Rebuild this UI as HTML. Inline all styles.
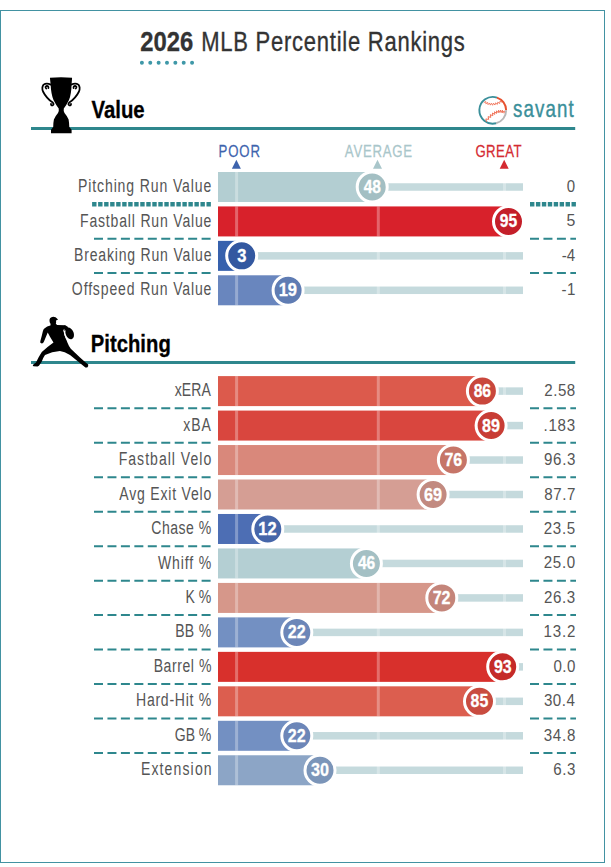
<!DOCTYPE html>
<html><head><meta charset="utf-8">
<style>
html,body{margin:0;padding:0;background:#fff;width:611px;height:867px;overflow:hidden;}
svg{position:absolute;left:0;top:0;}
text{font-family:"Liberation Sans", sans-serif;}
</style></head><body>
<svg width="611" height="867" viewBox="0 0 611 867" xmlns="http://www.w3.org/2000/svg">
<rect x="0.5" y="10.5" width="604" height="852" fill="#fff" stroke="#4292a2" stroke-width="1"/>
<line x1="141.9" y1="62.8" x2="194" y2="62.8" stroke="#3f98a8" stroke-width="4" stroke-linecap="round" stroke-dasharray="0 8.36"/>
<g fill="none">
<path d="M496.04 123.29 A13.4 13.4 0 1 1 496.94 97.57" stroke="#3a8f9a" stroke-width="1.9"/>
<path d="M496.94 97.57 A13.4 13.4 0 0 1 506.15 110.18" stroke="#e6512f" stroke-width="1.9"/>
<path d="M506.15 110.18 A13.4 13.4 0 0 1 496.04 123.29" stroke="#b8b8b8" stroke-width="1.9"/>
<path d="M483.76 102.64 L485.78 101.52 L485.88 103.82 L487.67 102.41 L488.06 104.65 L489.59 102.97 L490.30 105.13 L491.55 103.24 L492.60 105.25 L493.56 103.19 L494.93 105.02 L495.63 102.83 L497.29 104.44 L497.77 102.16 L499.69 103.52 L499.97 101.16 L502.11 102.26" stroke="#ee6a4f" stroke-width="0.85"/>
<path d="M486.50 121.79 L485.85 118.93 L488.70 119.41 L488.10 116.62 L490.81 117.39 L490.30 114.66 L492.82 115.71 L492.43 113.03 L494.74 114.39 L494.52 111.75 L496.55 113.42 L496.57 110.81 L498.24 112.78 L498.58 110.23 L499.82 112.47 L500.56 110.03 L501.29 112.47 L502.48 110.22 L502.67 112.76 L504.31 110.82 L504.01 113.34" stroke="#ee6a4f" stroke-width="0.95"/>
</g>
<rect x="31" y="127" width="544.2" height="3" fill="#2e878d"/>
<g fill="#000">
<path d="M49.9 77.8 Q61 76.8 72.1 77.8 L71.6 84 Q71.4 94 69 100 Q66.5 105 63.8 108.5 Q63.3 110.5 64.5 113 Q67.5 116.5 68.6 119.5 Q69.2 123 69.3 127 L71.6 129.8 L71.6 133.2 L51 133.2 L51 129.8 L53.2 127 Q53.2 123 53.9 119.5 Q55 116.5 58 113 Q59.2 110.5 58.7 108.5 Q56 105 53.5 100 Q51 94 50.6 84 Z"/>
</g>
<g fill="none" stroke="#000" stroke-width="1.75" stroke-linecap="round">
<path d="M50.8 84.6 Q46.5 82.6 43.6 84.6 Q41.4 87.5 43 91.5 Q46.5 98.5 52.8 102.6 Q54.5 104.6 52.6 105.4 Q50.8 105.6 51 103.8"/>
<path d="M46.2 88.6 Q44.6 86.4 46.8 85.8 Q48.8 86 48.4 88.2"/>
<path d="M71.2 84.6 Q75.5 82.6 78.4 84.6 Q80.6 87.5 79 91.5 Q75.5 98.5 69.2 102.6 Q67.5 104.6 69.4 105.4 Q71.2 105.6 71 103.8"/>
<path d="M75.8 88.6 Q77.4 86.4 75.2 85.8 Q73.2 86 73.6 88.2"/>
</g>
<path d="M236.4 159.8 L240.9 168.7 L231.9 168.7 Z" fill="#3d63ad"/>
<path d="M377.5 159.8 L382 168.7 L373 168.7 Z" fill="#a9c6ca"/>
<path d="M504.2 159.8 L508.7 168.7 L499.7 168.7 Z" fill="#d42a31"/>
<rect x="218.0" y="183.25" width="305.0" height="7.5" fill="#c5dadd"/>
<rect x="218.0" y="172.00" width="154.20" height="30" fill="#b3ced2"/>
<rect x="235.10" y="172.00" width="3" height="30" fill="#ffffff" opacity="0.3"/>
<rect x="376.80" y="172.00" width="3" height="30" fill="#ffffff" opacity="0.3"/>
<rect x="503.00" y="172.00" width="3" height="30" fill="#ffffff" opacity="0.3"/>
<circle cx="372.20" cy="187.00" r="15" fill="#a3bfc3" stroke="#fff" stroke-width="3"/>
<line x1="92.1" y1="204.20" x2="211" y2="204.20" stroke="#2e878d" stroke-width="4.4" stroke-dasharray="4.4 1.62"/>
<line x1="530" y1="204.20" x2="576" y2="204.20" stroke="#2e878d" stroke-width="4.4" stroke-dasharray="4.4 1.53"/>
<rect x="218.0" y="217.68" width="305.0" height="7.5" fill="#c5dadd"/>
<rect x="218.0" y="206.43" width="290.50" height="30" fill="#d8212b"/>
<rect x="235.10" y="206.43" width="3" height="30" fill="#ffffff" opacity="0.3"/>
<rect x="376.80" y="206.43" width="3" height="30" fill="#ffffff" opacity="0.3"/>
<rect x="503.00" y="206.43" width="3" height="30" fill="#ffffff" opacity="0.3"/>
<circle cx="508.50" cy="221.43" r="15" fill="#c41f29" stroke="#fff" stroke-width="3"/>
<line x1="94" y1="238.63" x2="211.2" y2="238.63" stroke="#2e878d" stroke-width="2" stroke-dasharray="9 4.45"/>
<line x1="530" y1="238.63" x2="576" y2="238.63" stroke="#2e878d" stroke-width="2" stroke-dasharray="9 4.45"/>
<rect x="218.0" y="252.11" width="305.0" height="7.5" fill="#c5dadd"/>
<rect x="218.0" y="240.86" width="23.70" height="30" fill="#3661ad"/>
<rect x="235.10" y="240.86" width="3" height="30" fill="#ffffff" opacity="0.3"/>
<rect x="376.80" y="240.86" width="3" height="30" fill="#ffffff" opacity="0.3"/>
<rect x="503.00" y="240.86" width="3" height="30" fill="#ffffff" opacity="0.3"/>
<circle cx="241.70" cy="255.86" r="15" fill="#3358a0" stroke="#fff" stroke-width="3"/>
<line x1="94" y1="273.06" x2="211.2" y2="273.06" stroke="#2e878d" stroke-width="2" stroke-dasharray="9 4.45"/>
<line x1="530" y1="273.06" x2="576" y2="273.06" stroke="#2e878d" stroke-width="2" stroke-dasharray="9 4.45"/>
<rect x="218.0" y="286.54" width="305.0" height="7.5" fill="#c5dadd"/>
<rect x="218.0" y="275.29" width="70.10" height="30" fill="#6986be"/>
<rect x="235.10" y="275.29" width="3" height="30" fill="#ffffff" opacity="0.3"/>
<rect x="376.80" y="275.29" width="3" height="30" fill="#ffffff" opacity="0.3"/>
<rect x="503.00" y="275.29" width="3" height="30" fill="#ffffff" opacity="0.3"/>
<circle cx="288.10" cy="290.29" r="15" fill="#5f7cb3" stroke="#fff" stroke-width="3"/>
<rect x="218.0" y="387.35" width="305.0" height="7.5" fill="#c5dadd"/>
<rect x="218.0" y="376.10" width="264.40" height="30" fill="#dc5a4c"/>
<rect x="235.10" y="376.10" width="3" height="30" fill="#ffffff" opacity="0.3"/>
<rect x="376.80" y="376.10" width="3" height="30" fill="#ffffff" opacity="0.3"/>
<rect x="503.00" y="376.10" width="3" height="30" fill="#ffffff" opacity="0.3"/>
<circle cx="482.40" cy="391.10" r="15" fill="#c9473c" stroke="#fff" stroke-width="3"/>
<line x1="94" y1="408.30" x2="211.2" y2="408.30" stroke="#2e878d" stroke-width="2" stroke-dasharray="9 4.45"/>
<line x1="530" y1="408.30" x2="576" y2="408.30" stroke="#2e878d" stroke-width="2" stroke-dasharray="9 4.45"/>
<rect x="218.0" y="421.82" width="305.0" height="7.5" fill="#c5dadd"/>
<rect x="218.0" y="410.57" width="273.10" height="30" fill="#d9463e"/>
<rect x="235.10" y="410.57" width="3" height="30" fill="#ffffff" opacity="0.3"/>
<rect x="376.80" y="410.57" width="3" height="30" fill="#ffffff" opacity="0.3"/>
<rect x="503.00" y="410.57" width="3" height="30" fill="#ffffff" opacity="0.3"/>
<circle cx="491.10" cy="425.57" r="15" fill="#c83d35" stroke="#fff" stroke-width="3"/>
<line x1="94" y1="442.77" x2="211.2" y2="442.77" stroke="#2e878d" stroke-width="2" stroke-dasharray="9 4.45"/>
<line x1="530" y1="442.77" x2="576" y2="442.77" stroke="#2e878d" stroke-width="2" stroke-dasharray="9 4.45"/>
<rect x="218.0" y="456.29" width="305.0" height="7.5" fill="#c5dadd"/>
<rect x="218.0" y="445.04" width="235.40" height="30" fill="#d9887b"/>
<rect x="235.10" y="445.04" width="3" height="30" fill="#ffffff" opacity="0.3"/>
<rect x="376.80" y="445.04" width="3" height="30" fill="#ffffff" opacity="0.3"/>
<rect x="503.00" y="445.04" width="3" height="30" fill="#ffffff" opacity="0.3"/>
<circle cx="453.40" cy="460.04" r="15" fill="#c67568" stroke="#fff" stroke-width="3"/>
<line x1="94" y1="477.24" x2="211.2" y2="477.24" stroke="#2e878d" stroke-width="2" stroke-dasharray="9 4.45"/>
<line x1="530" y1="477.24" x2="576" y2="477.24" stroke="#2e878d" stroke-width="2" stroke-dasharray="9 4.45"/>
<rect x="218.0" y="490.76" width="305.0" height="7.5" fill="#c5dadd"/>
<rect x="218.0" y="479.51" width="215.10" height="30" fill="#d59e94"/>
<rect x="235.10" y="479.51" width="3" height="30" fill="#ffffff" opacity="0.3"/>
<rect x="376.80" y="479.51" width="3" height="30" fill="#ffffff" opacity="0.3"/>
<rect x="503.00" y="479.51" width="3" height="30" fill="#ffffff" opacity="0.3"/>
<circle cx="433.10" cy="494.51" r="15" fill="#c28a80" stroke="#fff" stroke-width="3"/>
<line x1="94" y1="511.71" x2="211.2" y2="511.71" stroke="#2e878d" stroke-width="2" stroke-dasharray="9 4.45"/>
<line x1="530" y1="511.71" x2="576" y2="511.71" stroke="#2e878d" stroke-width="2" stroke-dasharray="9 4.45"/>
<rect x="218.0" y="525.23" width="305.0" height="7.5" fill="#c5dadd"/>
<rect x="218.0" y="513.98" width="49.80" height="30" fill="#4d6eb4"/>
<rect x="235.10" y="513.98" width="3" height="30" fill="#ffffff" opacity="0.3"/>
<rect x="376.80" y="513.98" width="3" height="30" fill="#ffffff" opacity="0.3"/>
<rect x="503.00" y="513.98" width="3" height="30" fill="#ffffff" opacity="0.3"/>
<circle cx="267.80" cy="528.98" r="15" fill="#4666a9" stroke="#fff" stroke-width="3"/>
<line x1="94" y1="546.18" x2="211.2" y2="546.18" stroke="#2e878d" stroke-width="2" stroke-dasharray="9 4.45"/>
<line x1="530" y1="546.18" x2="576" y2="546.18" stroke="#2e878d" stroke-width="2" stroke-dasharray="9 4.45"/>
<rect x="218.0" y="559.70" width="305.0" height="7.5" fill="#c5dadd"/>
<rect x="218.0" y="548.45" width="148.40" height="30" fill="#b4cfd3"/>
<rect x="235.10" y="548.45" width="3" height="30" fill="#ffffff" opacity="0.3"/>
<rect x="376.80" y="548.45" width="3" height="30" fill="#ffffff" opacity="0.3"/>
<rect x="503.00" y="548.45" width="3" height="30" fill="#ffffff" opacity="0.3"/>
<circle cx="366.40" cy="563.45" r="15" fill="#a4c0c4" stroke="#fff" stroke-width="3"/>
<line x1="94" y1="580.65" x2="211.2" y2="580.65" stroke="#2e878d" stroke-width="2" stroke-dasharray="9 4.45"/>
<line x1="530" y1="580.65" x2="576" y2="580.65" stroke="#2e878d" stroke-width="2" stroke-dasharray="9 4.45"/>
<rect x="218.0" y="594.17" width="305.0" height="7.5" fill="#c5dadd"/>
<rect x="218.0" y="582.92" width="223.80" height="30" fill="#d6978a"/>
<rect x="235.10" y="582.92" width="3" height="30" fill="#ffffff" opacity="0.3"/>
<rect x="376.80" y="582.92" width="3" height="30" fill="#ffffff" opacity="0.3"/>
<rect x="503.00" y="582.92" width="3" height="30" fill="#ffffff" opacity="0.3"/>
<circle cx="441.80" cy="597.92" r="15" fill="#c4857a" stroke="#fff" stroke-width="3"/>
<line x1="94" y1="615.12" x2="211.2" y2="615.12" stroke="#2e878d" stroke-width="2" stroke-dasharray="9 4.45"/>
<line x1="530" y1="615.12" x2="576" y2="615.12" stroke="#2e878d" stroke-width="2" stroke-dasharray="9 4.45"/>
<rect x="218.0" y="628.64" width="305.0" height="7.5" fill="#c5dadd"/>
<rect x="218.0" y="617.39" width="78.80" height="30" fill="#7390c2"/>
<rect x="235.10" y="617.39" width="3" height="30" fill="#ffffff" opacity="0.3"/>
<rect x="376.80" y="617.39" width="3" height="30" fill="#ffffff" opacity="0.3"/>
<rect x="503.00" y="617.39" width="3" height="30" fill="#ffffff" opacity="0.3"/>
<circle cx="296.80" cy="632.39" r="15" fill="#6c86b8" stroke="#fff" stroke-width="3"/>
<line x1="94" y1="649.59" x2="211.2" y2="649.59" stroke="#2e878d" stroke-width="2" stroke-dasharray="9 4.45"/>
<line x1="530" y1="649.59" x2="576" y2="649.59" stroke="#2e878d" stroke-width="2" stroke-dasharray="9 4.45"/>
<rect x="218.0" y="663.11" width="305.0" height="7.5" fill="#c5dadd"/>
<rect x="218.0" y="651.86" width="284.70" height="30" fill="#d8302c"/>
<rect x="235.10" y="651.86" width="3" height="30" fill="#ffffff" opacity="0.3"/>
<rect x="376.80" y="651.86" width="3" height="30" fill="#ffffff" opacity="0.3"/>
<rect x="503.00" y="651.86" width="3" height="30" fill="#ffffff" opacity="0.3"/>
<circle cx="502.70" cy="666.86" r="15" fill="#c52a28" stroke="#fff" stroke-width="3"/>
<line x1="94" y1="684.06" x2="211.2" y2="684.06" stroke="#2e878d" stroke-width="2" stroke-dasharray="9 4.45"/>
<line x1="530" y1="684.06" x2="576" y2="684.06" stroke="#2e878d" stroke-width="2" stroke-dasharray="9 4.45"/>
<rect x="218.0" y="697.58" width="305.0" height="7.5" fill="#c5dadd"/>
<rect x="218.0" y="686.33" width="261.50" height="30" fill="#dc5e4f"/>
<rect x="235.10" y="686.33" width="3" height="30" fill="#ffffff" opacity="0.3"/>
<rect x="376.80" y="686.33" width="3" height="30" fill="#ffffff" opacity="0.3"/>
<rect x="503.00" y="686.33" width="3" height="30" fill="#ffffff" opacity="0.3"/>
<circle cx="479.50" cy="701.33" r="15" fill="#c94c40" stroke="#fff" stroke-width="3"/>
<line x1="94" y1="718.53" x2="211.2" y2="718.53" stroke="#2e878d" stroke-width="2" stroke-dasharray="9 4.45"/>
<line x1="530" y1="718.53" x2="576" y2="718.53" stroke="#2e878d" stroke-width="2" stroke-dasharray="9 4.45"/>
<rect x="218.0" y="732.05" width="305.0" height="7.5" fill="#c5dadd"/>
<rect x="218.0" y="720.80" width="78.80" height="30" fill="#7390c2"/>
<rect x="235.10" y="720.80" width="3" height="30" fill="#ffffff" opacity="0.3"/>
<rect x="376.80" y="720.80" width="3" height="30" fill="#ffffff" opacity="0.3"/>
<rect x="503.00" y="720.80" width="3" height="30" fill="#ffffff" opacity="0.3"/>
<circle cx="296.80" cy="735.80" r="15" fill="#6c86b8" stroke="#fff" stroke-width="3"/>
<line x1="94" y1="753.00" x2="211.2" y2="753.00" stroke="#2e878d" stroke-width="2" stroke-dasharray="9 4.45"/>
<line x1="530" y1="753.00" x2="576" y2="753.00" stroke="#2e878d" stroke-width="2" stroke-dasharray="9 4.45"/>
<rect x="218.0" y="766.52" width="305.0" height="7.5" fill="#c5dadd"/>
<rect x="218.0" y="755.27" width="102.00" height="30" fill="#8ca5c6"/>
<rect x="235.10" y="755.27" width="3" height="30" fill="#ffffff" opacity="0.3"/>
<rect x="376.80" y="755.27" width="3" height="30" fill="#ffffff" opacity="0.3"/>
<rect x="503.00" y="755.27" width="3" height="30" fill="#ffffff" opacity="0.3"/>
<circle cx="320.00" cy="770.27" r="15" fill="#7b95b9" stroke="#fff" stroke-width="3"/>
<rect x="31" y="361" width="544.2" height="3" fill="#2e878d"/>
<g fill="#000">
<path d="M49.5 320.8 Q49.2 317.2 53.2 316.8 Q56 316.8 57 318.6 L58 319.8 L56 320.4 Q56.4 322.6 55.8 323.6 L57 325 L65.3 325.3 Q67 325.8 66.8 327.2 L63.2 330 Q64.6 336 67.4 342.4 Q69 346.5 70.8 348.8 L80 357.5 Q85 362 88.2 364.6 Q88.6 366.5 87.2 367.4 L85.4 367.4 Q78 361.5 70 355 Q64.5 351.5 59.9 350.9 Q52 351.5 45 355.1 Q43 358 41.8 361.5 L39.8 364.6 Q39.2 366.3 37.5 366.4 L33.4 366.2 Q32 365.5 33.6 364.2 L36 362.6 Q38.5 357 41.8 352 Q47 347 53.5 342.4 Q50 337 47.7 332.4 Q45.6 337.5 44 341.5 Q43.2 343.6 41.8 343.6 Q39.6 343.2 40.3 341.2 Q41.8 336 42.8 331.5 Q43.4 329 44.4 328.4 Q47 326.2 50.4 325.6 L50.6 323.9 Q49.4 322.4 49.5 320.8 Z"/>
<ellipse cx="69.7" cy="333.4" rx="4.0" ry="6.0" transform="rotate(-22 69.7 333.4)"/>
<path d="M64 325.6 L67.5 326.6 L68.5 328.5 L64.5 331 Z"/>
</g>
<path d="M64.2 331.2 Q64.4 335.5 66.8 339.6" fill="none" stroke="#fff" stroke-width="1"/>
<text x="140.28" y="50.90" style="font-size:27.5px;font-weight:bold;fill:#333;stroke:#333;stroke-width:0.3px" textLength="53.08" lengthAdjust="spacingAndGlyphs">2026</text>
<text transform="translate(201.22 50.90) scale(0.8 1)" x="0" y="0" style="font-size:27.5px;fill:#333;stroke:#333;stroke-width:0.35px" textLength="329.46" lengthAdjust="spacing">MLB Percentile Rankings</text>
<text x="91.51" y="117.90" style="font-size:23.4px;font-weight:bold;fill:#000;stroke:#000;stroke-width:0.3px" textLength="53.20" lengthAdjust="spacingAndGlyphs">Value</text>
<text transform="translate(513.07 117.30) scale(0.78 1)" x="0" y="0" style="font-size:24px;fill:#3a8f9a;stroke:#3a8f9a;stroke-width:0.4px" textLength="77.66" lengthAdjust="spacing">savant</text>
<text transform="translate(218.49 156.70) scale(0.78 1)" x="0" y="0" style="font-size:16.9px;fill:#3d63ad;stroke:#3d63ad;stroke-width:0.25px" textLength="53.27" lengthAdjust="spacing">POOR</text>
<text transform="translate(344.86 156.70) scale(0.78 1)" x="0" y="0" style="font-size:16.9px;fill:#a9c6ca;stroke:#a9c6ca;stroke-width:0.25px" textLength="86.07" lengthAdjust="spacing">AVERAGE</text>
<text transform="translate(475.41 156.70) scale(0.78 1)" x="0" y="0" style="font-size:16.9px;fill:#d42a31;stroke:#d42a31;stroke-width:0.25px" textLength="59.21" lengthAdjust="spacing">GREAT</text>
<text x="90.81" y="352.20" style="font-size:24.5px;font-weight:bold;fill:#000;stroke:#000;stroke-width:0.3px" textLength="79.97" lengthAdjust="spacingAndGlyphs">Pitching</text>
<text transform="translate(78.04 192.10) scale(0.74 1)" x="0" y="0" style="font-size:19px;fill:#555555" textLength="180.09" lengthAdjust="spacing">Pitching Run Value</text>
<text x="566.79" y="192.00" style="font-size:16.8px;fill:#555555" textLength="8.37" lengthAdjust="spacingAndGlyphs">0</text>
<text x="363.69" y="193.00" style="font-size:18.5px;font-weight:bold;fill:#fff;stroke:#fff;stroke-width:0.3px" textLength="17.24" lengthAdjust="spacingAndGlyphs">48</text>
<text transform="translate(80.04 226.53) scale(0.74 1)" x="0" y="0" style="font-size:19px;fill:#555555" textLength="177.56" lengthAdjust="spacing">Fastball Run Value</text>
<text x="566.53" y="226.43" style="font-size:16.8px;fill:#555555" textLength="8.84" lengthAdjust="spacingAndGlyphs">5</text>
<text x="499.73" y="227.43" style="font-size:18.5px;font-weight:bold;fill:#fff;stroke:#fff;stroke-width:0.3px" textLength="17.41" lengthAdjust="spacingAndGlyphs">95</text>
<text transform="translate(74.09 260.96) scale(0.74 1)" x="0" y="0" style="font-size:19px;fill:#555555" textLength="185.69" lengthAdjust="spacing">Breaking Run Value</text>
<text transform="translate(561.68 260.86) scale(0.9 1)" x="0" y="0" style="font-size:16.8px;fill:#555555" textLength="14.86" lengthAdjust="spacing">-4</text>
<text x="237.19" y="261.86" style="font-size:18.5px;font-weight:bold;fill:#fff;stroke:#fff;stroke-width:0.3px" textLength="9.19" lengthAdjust="spacingAndGlyphs">3</text>
<text transform="translate(71.87 295.39) scale(0.74 1)" x="0" y="0" style="font-size:19px;fill:#555555" textLength="188.62" lengthAdjust="spacing">Offspeed Run Value</text>
<text transform="translate(561.54 295.29) scale(0.9 1)" x="0" y="0" style="font-size:16.8px;fill:#555555" textLength="15.37" lengthAdjust="spacing">-1</text>
<text x="278.64" y="296.29" style="font-size:18.5px;font-weight:bold;fill:#fff;stroke:#fff;stroke-width:0.3px" textLength="18.33" lengthAdjust="spacingAndGlyphs">19</text>
<text transform="translate(174.74 396.20) scale(0.74 1)" x="0" y="0" style="font-size:19px;fill:#555555" textLength="49.00" lengthAdjust="spacing">xERA</text>
<text transform="translate(544.18 396.10) scale(0.9 1)" x="0" y="0" style="font-size:16.8px;fill:#555555" textLength="34.53" lengthAdjust="spacing">2.58</text>
<text x="473.64" y="397.10" style="font-size:18.5px;font-weight:bold;fill:#fff;stroke:#fff;stroke-width:0.3px" textLength="17.48" lengthAdjust="spacingAndGlyphs">86</text>
<text transform="translate(183.24 430.67) scale(0.74 1)" x="0" y="0" style="font-size:19px;fill:#555555" textLength="37.29" lengthAdjust="spacing">xBA</text>
<text transform="translate(543.50 430.57) scale(0.9 1)" x="0" y="0" style="font-size:16.8px;fill:#555555" textLength="35.23" lengthAdjust="spacing">.183</text>
<text x="482.10" y="431.57" style="font-size:18.5px;font-weight:bold;fill:#fff;stroke:#fff;stroke-width:0.3px" textLength="17.92" lengthAdjust="spacingAndGlyphs">89</text>
<text transform="translate(118.71 465.14) scale(0.74 1)" x="0" y="0" style="font-size:19px;fill:#555555" textLength="125.05" lengthAdjust="spacing">Fastball Velo</text>
<text transform="translate(544.09 465.04) scale(0.9 1)" x="0" y="0" style="font-size:16.8px;fill:#555555" textLength="34.77" lengthAdjust="spacing">96.3</text>
<text x="444.42" y="466.04" style="font-size:18.5px;font-weight:bold;fill:#fff;stroke:#fff;stroke-width:0.3px" textLength="17.72" lengthAdjust="spacingAndGlyphs">76</text>
<text transform="translate(119.26 499.61) scale(0.74 1)" x="0" y="0" style="font-size:19px;fill:#555555" textLength="124.32" lengthAdjust="spacing">Avg Exit Velo</text>
<text transform="translate(544.15 499.51) scale(0.9 1)" x="0" y="0" style="font-size:16.8px;fill:#555555" textLength="34.70" lengthAdjust="spacing">87.7</text>
<text x="424.05" y="500.51" style="font-size:18.5px;font-weight:bold;fill:#fff;stroke:#fff;stroke-width:0.3px" textLength="18.06" lengthAdjust="spacingAndGlyphs">69</text>
<text transform="translate(151.31 534.08) scale(0.74 1)" x="0" y="0" style="font-size:19px;fill:#555555" textLength="81.01" lengthAdjust="spacing">Chase %</text>
<text transform="translate(543.69 533.98) scale(0.9 1)" x="0" y="0" style="font-size:16.8px;fill:#555555" textLength="35.05" lengthAdjust="spacing">23.5</text>
<text x="258.37" y="534.98" style="font-size:18.5px;font-weight:bold;fill:#fff;stroke:#fff;stroke-width:0.3px" textLength="18.31" lengthAdjust="spacingAndGlyphs">12</text>
<text transform="translate(157.90 568.55) scale(0.74 1)" x="0" y="0" style="font-size:19px;fill:#555555" textLength="72.12" lengthAdjust="spacing">Whiff %</text>
<text transform="translate(543.69 568.45) scale(0.9 1)" x="0" y="0" style="font-size:16.8px;fill:#555555" textLength="35.01" lengthAdjust="spacing">25.0</text>
<text x="357.93" y="569.45" style="font-size:18.5px;font-weight:bold;fill:#fff;stroke:#fff;stroke-width:0.3px" textLength="17.32" lengthAdjust="spacingAndGlyphs">46</text>
<text transform="translate(185.62 603.02) scale(0.74 1)" x="0" y="0" style="font-size:19px;fill:#555555" textLength="34.64" lengthAdjust="spacing">K %</text>
<text transform="translate(543.88 602.92) scale(0.9 1)" x="0" y="0" style="font-size:16.8px;fill:#555555" textLength="34.82" lengthAdjust="spacing">26.3</text>
<text x="432.69" y="603.92" style="font-size:18.5px;font-weight:bold;fill:#fff;stroke:#fff;stroke-width:0.3px" textLength="17.87" lengthAdjust="spacingAndGlyphs">72</text>
<text transform="translate(175.14 637.49) scale(0.74 1)" x="0" y="0" style="font-size:19px;fill:#555555" textLength="48.91" lengthAdjust="spacing">BB %</text>
<text transform="translate(543.47 637.39) scale(0.9 1)" x="0" y="0" style="font-size:16.8px;fill:#555555" textLength="35.53" lengthAdjust="spacing">13.2</text>
<text x="287.84" y="638.39" style="font-size:18.5px;font-weight:bold;fill:#fff;stroke:#fff;stroke-width:0.3px" textLength="17.91" lengthAdjust="spacingAndGlyphs">22</text>
<text transform="translate(153.66 671.96) scale(0.74 1)" x="0" y="0" style="font-size:19px;fill:#555555" textLength="78.16" lengthAdjust="spacing">Barrel %</text>
<text transform="translate(553.41 671.86) scale(0.9 1)" x="0" y="0" style="font-size:16.8px;fill:#555555" textLength="24.31" lengthAdjust="spacing">0.0</text>
<text x="493.91" y="672.86" style="font-size:18.5px;font-weight:bold;fill:#fff;stroke:#fff;stroke-width:0.3px" textLength="17.73" lengthAdjust="spacingAndGlyphs">93</text>
<text transform="translate(136.03 706.43) scale(0.74 1)" x="0" y="0" style="font-size:19px;fill:#555555" textLength="101.70" lengthAdjust="spacing">Hard-Hit %</text>
<text transform="translate(543.89 706.33) scale(0.9 1)" x="0" y="0" style="font-size:16.8px;fill:#555555" textLength="34.61" lengthAdjust="spacing">30.4</text>
<text x="470.62" y="707.33" style="font-size:18.5px;font-weight:bold;fill:#fff;stroke:#fff;stroke-width:0.3px" textLength="17.65" lengthAdjust="spacingAndGlyphs">85</text>
<text transform="translate(174.82 740.90) scale(0.74 1)" x="0" y="0" style="font-size:19px;fill:#555555" textLength="49.20" lengthAdjust="spacing">GB %</text>
<text transform="translate(543.68 740.80) scale(0.9 1)" x="0" y="0" style="font-size:16.8px;fill:#555555" textLength="35.21" lengthAdjust="spacing">34.8</text>
<text x="287.84" y="741.80" style="font-size:18.5px;font-weight:bold;fill:#fff;stroke:#fff;stroke-width:0.3px" textLength="17.91" lengthAdjust="spacingAndGlyphs">22</text>
<text transform="translate(140.88 775.37) scale(0.74 1)" x="0" y="0" style="font-size:19px;fill:#555555" textLength="95.63" lengthAdjust="spacing">Extension</text>
<text transform="translate(553.34 775.27) scale(0.9 1)" x="0" y="0" style="font-size:16.8px;fill:#555555" textLength="24.49" lengthAdjust="spacing">6.3</text>
<text x="311.06" y="776.27" style="font-size:18.5px;font-weight:bold;fill:#fff;stroke:#fff;stroke-width:0.3px" textLength="17.97" lengthAdjust="spacingAndGlyphs">30</text>
</svg>
</body></html>
